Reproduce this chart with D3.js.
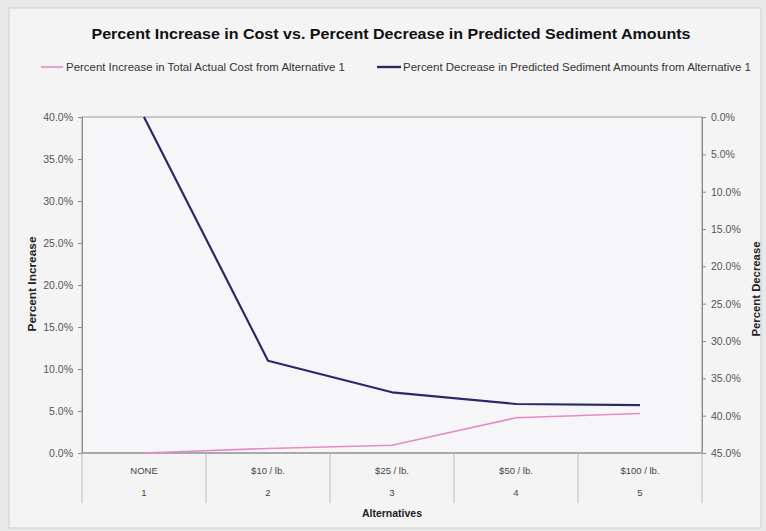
<!DOCTYPE html>
<html>
<head>
<meta charset="utf-8">
<script src="https://cdn.jsdelivr.net/npm/d3@7/dist/d3.min.js"></script>
<style>
  html, body { margin: 0; padding: 0; background: #e9e9e9; }
  svg { display: block; font-family: "Liberation Sans", Arial, sans-serif; }
</style>
</head>
<body>
<svg id="chart" width="766" height="531"></svg>
<script>
// Alternatives along the x axis (two-level category labels)
const categories = ["NONE", "$10 / lb.", "$25 / lb.", "$50 / lb.", "$100 / lb."];
const alternativeNumbers = ["1", "2", "3", "4", "5"];

// Percent increase in total actual cost from alternative 1 (left axis)
const costIncrease = [0.000, 0.0054, 0.0093, 0.0419, 0.0470];
// Percent decrease in predicted sediment amounts from alternative 1 (right axis, inverted)
const sedimentDecrease = [0.000, 0.3264, 0.3687, 0.3844, 0.3860];

const leftTicks = [0, 0.05, 0.10, 0.15, 0.20, 0.25, 0.30, 0.35, 0.40];
const rightTicks = [0, 0.05, 0.10, 0.15, 0.20, 0.25, 0.30, 0.35, 0.40, 0.45];

const seriesNames = [
  "Percent Increase in Total Actual Cost from Alternative 1",
  "Percent Decrease in Predicted Sediment Amounts from Alternative 1"
];
const colors = ["#e58cc2", "#2a2966"];

const svg = d3.select("#chart");
const plot = { left: 82, right: 702, top: 117, bottom: 453 };

// chart frame
svg.append("rect").attr("x", 9).attr("y", 8).attr("width", 752).attr("height", 520)
  .attr("fill", "#f4f4f5").attr("stroke", "#cfcfcf").attr("stroke-width", 1);

// plot area
svg.append("rect")
  .attr("x", plot.left).attr("y", plot.top)
  .attr("width", plot.right - plot.left).attr("height", plot.bottom - plot.top)
  .attr("fill", "#f6f6f8").attr("stroke", "#9a9a9a").attr("stroke-width", 1);

const x = d3.scaleBand().domain(categories).range([plot.left, plot.right]).padding(0);
const yL = d3.scaleLinear().domain([0, 0.40]).range([plot.bottom, plot.top]);
const yR = d3.scaleLinear().domain([0, 0.45]).range([plot.top, plot.bottom]);
const pct = d3.format(".1%");

// title
svg.append("text").attr("x", 391).attr("y", 38.5).attr("text-anchor", "middle")
  .attr("font-size", 15).attr("font-weight", "bold").attr("fill", "#111")
  .attr("textLength", 599).attr("lengthAdjust", "spacingAndGlyphs")
  .text("Percent Increase in Cost vs. Percent Decrease in Predicted Sediment Amounts");

// legend
const legendItems = [
  { x1: 41, x2: 63, tx: 66, len: 279, name: seriesNames[0], color: colors[0], w: 1.6 },
  { x1: 377, x2: 401, tx: 403, len: 348, name: seriesNames[1], color: colors[1], w: 2.4 }
];
legendItems.forEach(d => {
  svg.append("line").attr("x1", d.x1).attr("x2", d.x2).attr("y1", 67).attr("y2", 67)
    .attr("stroke", d.color).attr("stroke-width", d.w);
  svg.append("text").attr("x", d.tx).attr("y", 70.5).attr("font-size", 10.5)
    .attr("textLength", d.len).attr("lengthAdjust", "spacingAndGlyphs")
    .attr("fill", "#333").text(d.name);
});

// left axis
const leftAxis = d3.axisLeft(yL).tickValues(leftTicks).tickFormat(pct).tickSize(4).tickPadding(5);
const gL = svg.append("g").attr("transform", `translate(${plot.left},0)`).call(leftAxis);
// right axis
const rightAxis = d3.axisRight(yR).tickValues(rightTicks).tickFormat(pct).tickSize(4).tickPadding(5);
const gR = svg.append("g").attr("transform", `translate(${plot.right},0)`).call(rightAxis);

[gL, gR].forEach(g => {
  g.select(".domain").attr("stroke", "#8a8a8a");
  g.selectAll(".tick line").attr("stroke", "#8a8a8a");
  g.selectAll(".tick text").attr("font-size", 10.5).attr("fill", "#555")
    .attr("font-family", "'Liberation Sans', Arial, sans-serif");
});

// bottom category axis with group separators
const gX = svg.append("g");
gX.append("line").attr("x1", plot.left).attr("x2", plot.right)
  .attr("y1", plot.bottom).attr("y2", plot.bottom).attr("stroke", "#8a8a8a");
const boundaries = categories.map(c => x(c)).concat([x(categories[categories.length - 1]) + x.bandwidth()]);
boundaries.forEach(b => {
  gX.append("line").attr("x1", b).attr("x2", b).attr("y1", plot.bottom).attr("y2", 503)
    .attr("stroke", "#bdbdbd").attr("stroke-width", 1);
});
categories.forEach((c, i) => {
  const cx = x(c) + x.bandwidth() / 2;
  gX.append("text").attr("x", cx).attr("y", 474).attr("text-anchor", "middle")
    .attr("font-size", 9.5).attr("fill", "#444").text(c);
  gX.append("text").attr("x", cx).attr("y", 496).attr("text-anchor", "middle")
    .attr("font-size", 9.5).attr("fill", "#444").text(alternativeNumbers[i]);
});

// axis titles
svg.append("text").attr("x", 392).attr("y", 517).attr("text-anchor", "middle")
  .attr("font-size", 10.5).attr("font-weight", "bold").attr("fill", "#222").text("Alternatives");
svg.append("text").attr("transform", "translate(36,284) rotate(-90)").attr("text-anchor", "middle")
  .attr("font-size", 11).attr("font-weight", "bold").attr("fill", "#222")
  .attr("textLength", 95).attr("lengthAdjust", "spacingAndGlyphs").text("Percent Increase");
svg.append("text").attr("transform", "translate(760,289) rotate(-90)").attr("text-anchor", "middle")
  .attr("font-size", 11).attr("font-weight", "bold").attr("fill", "#222")
  .attr("textLength", 95).attr("lengthAdjust", "spacingAndGlyphs").text("Percent Decrease");

// series lines
const cx = (d, i) => x(categories[i]) + x.bandwidth() / 2;
const costLine = d3.line().x(cx).y(d => yL(d));
const sedLine = d3.line().x(cx).y(d => yR(d));

svg.append("path").datum(costIncrease).attr("d", costLine)
  .attr("fill", "none").attr("stroke", colors[0]).attr("stroke-width", 1.6);
svg.append("path").datum(sedimentDecrease).attr("d", sedLine)
  .attr("fill", "none").attr("stroke", colors[1]).attr("stroke-width", 2.2)
  .attr("stroke-linejoin", "round");
</script>
</body>
</html>
